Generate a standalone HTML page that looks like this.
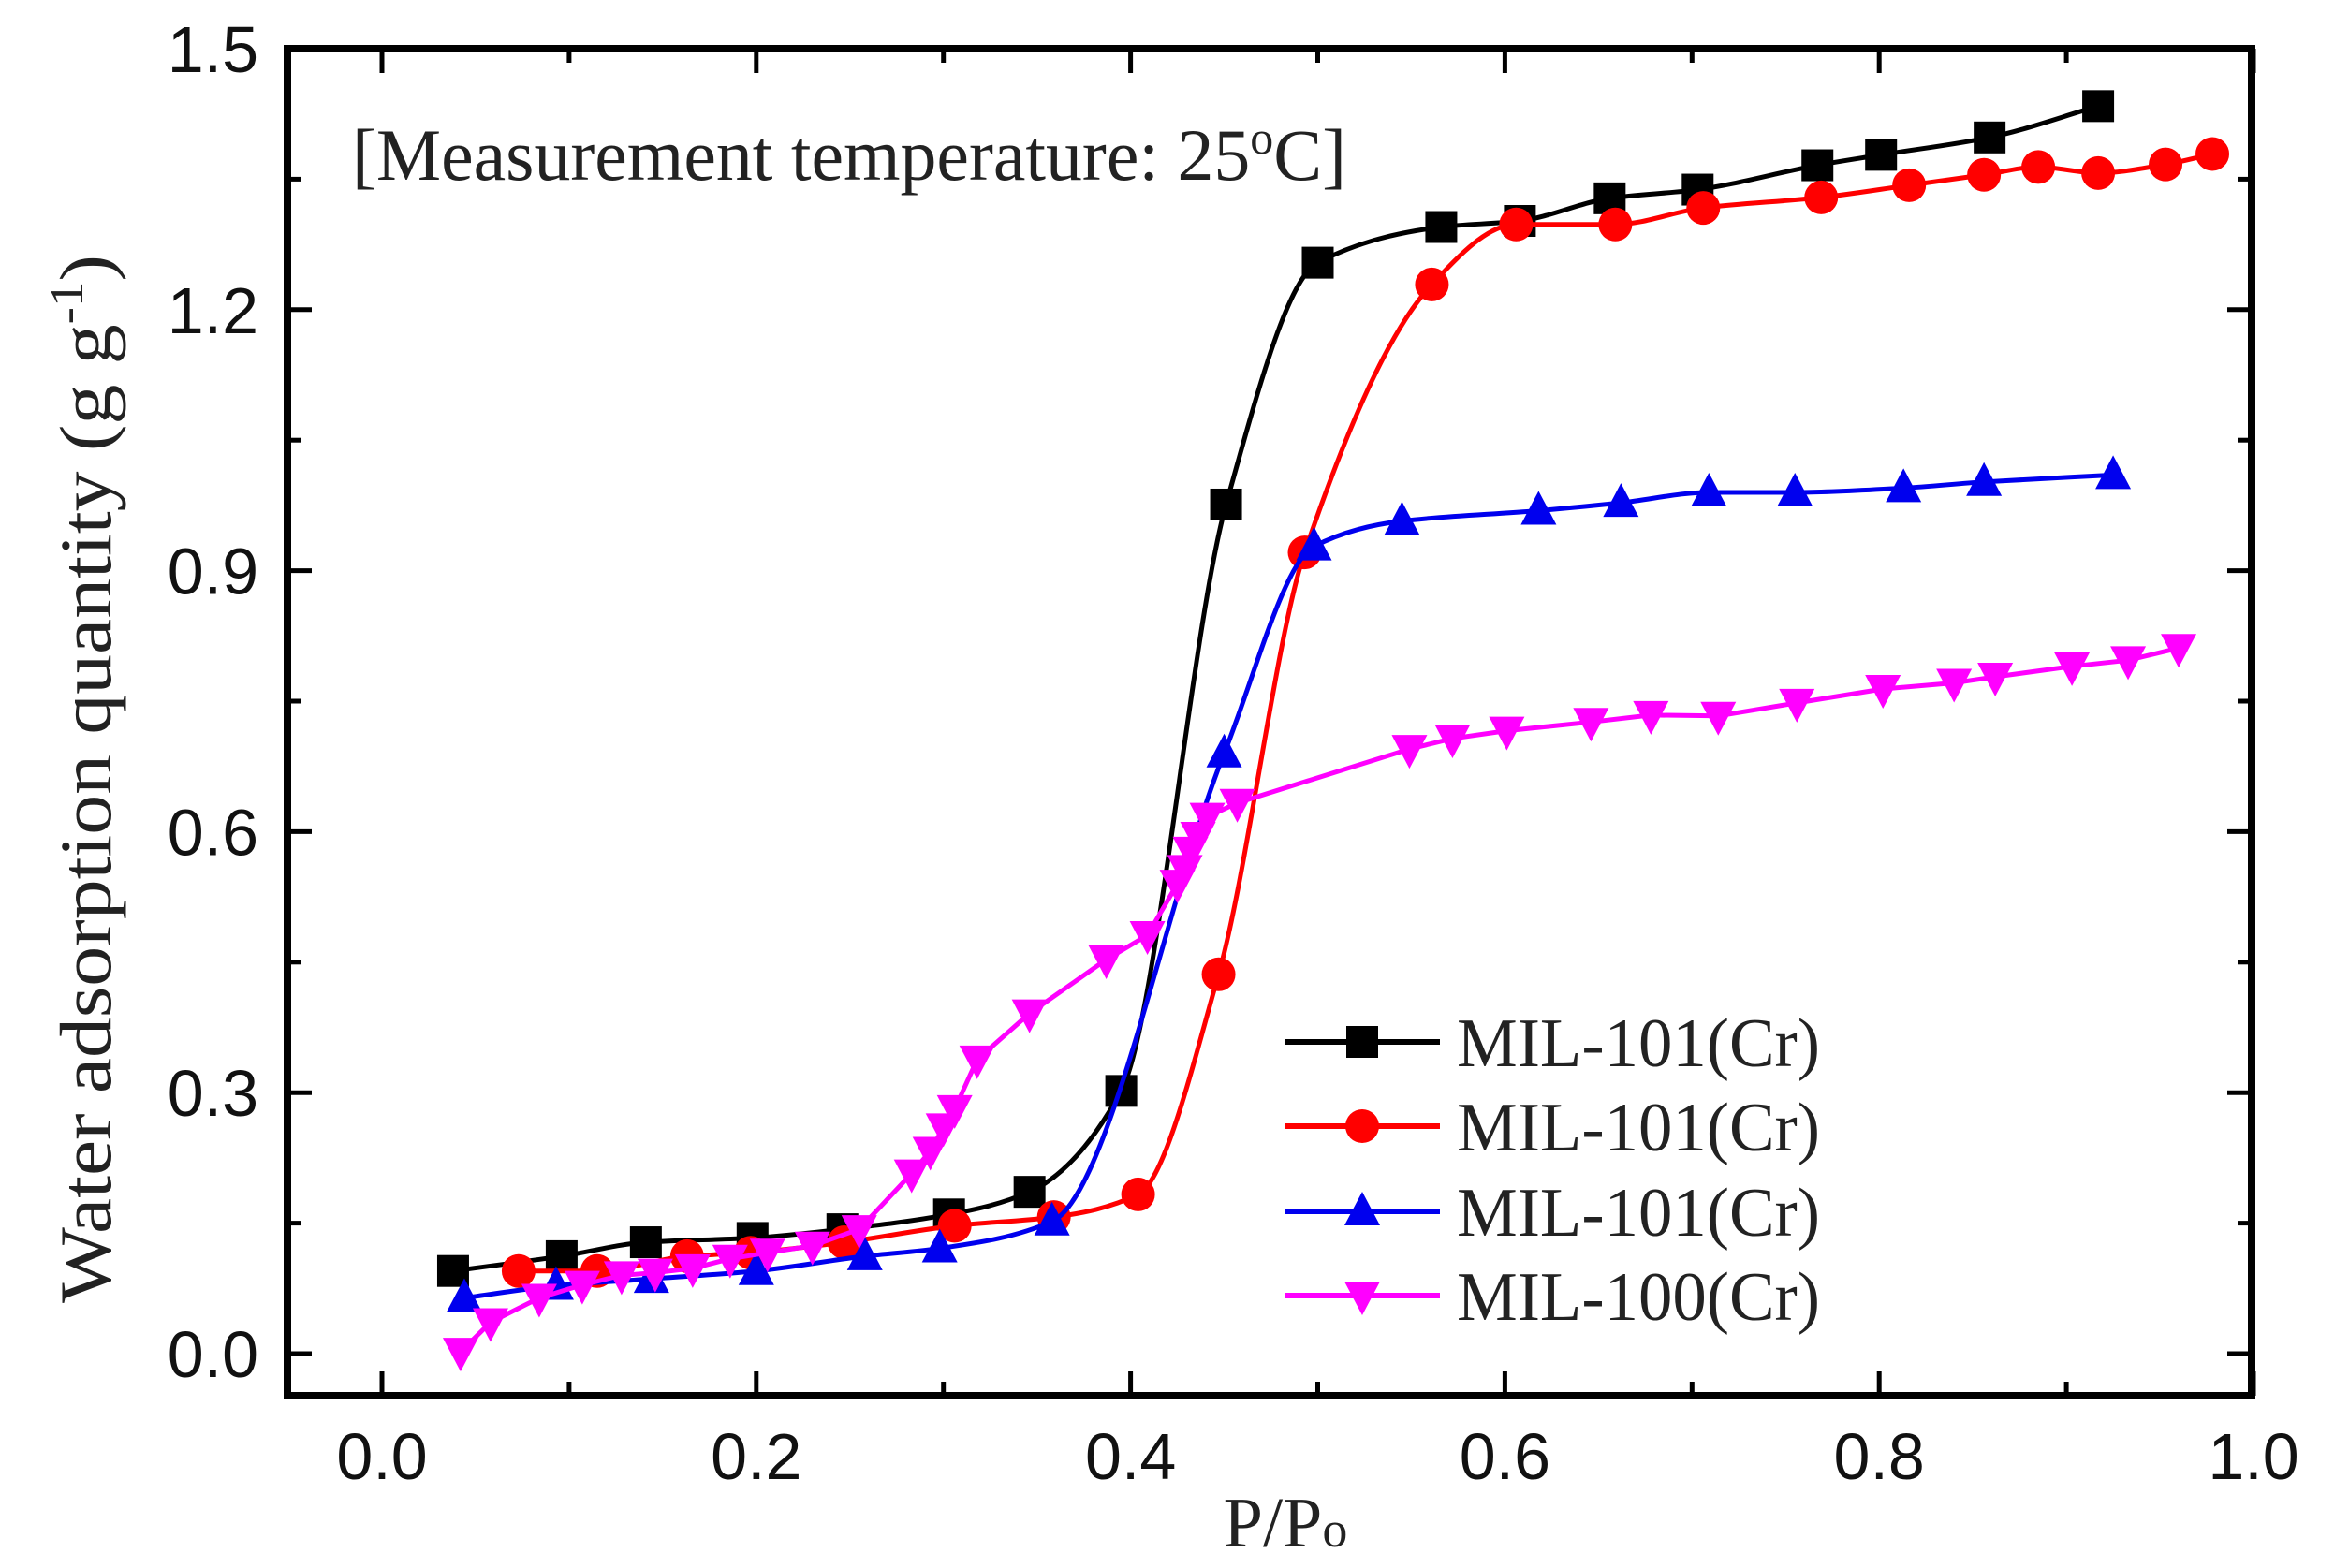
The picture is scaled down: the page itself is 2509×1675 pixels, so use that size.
<!DOCTYPE html>
<html><head><meta charset="utf-8"><style>
html,body{margin:0;padding:0;background:#fff;}
svg{display:block;}
</style></head><body>
<svg id="chart" width="2509" height="1675" viewBox="0 0 2509 1675" xmlns="http://www.w3.org/2000/svg">
<g id="plot"></g>
</svg>
<script>
const xTicks=[0.0,0.2,0.4,0.6,0.8,1.0];
const xTickLabels=["0.0","0.2","0.4","0.6","0.8","1.0"];
const yTicks=[0.0,0.3,0.6,0.9,1.2,1.5];
const yTickLabels=["0.0","0.3","0.6","0.9","1.2","1.5"];
const seriesNames=["MIL-101(Cr)","MIL-101(Cr)","MIL-101(Cr)","MIL-100(Cr)"];
const blackX=[0.038,0.096,0.141,0.198,0.246,0.303,0.346,0.395,0.451,0.500,0.566,0.608,0.656,0.703,0.767,0.801,0.859,0.917];
const blackY=[0.095,0.112,0.128,0.133,0.143,0.160,0.186,0.302,0.976,1.254,1.295,1.302,1.328,1.338,1.366,1.378,1.398,1.434];
const redX=[0.073,0.115,0.163,0.197,0.247,0.306,0.359,0.404,0.447,0.493,0.561,0.606,0.659,0.706,0.769,0.816,0.856,0.885,0.917,0.953,0.978];
const redY=[0.095,0.095,0.112,0.116,0.128,0.147,0.157,0.183,0.436,0.921,1.229,1.298,1.298,1.317,1.329,1.343,1.355,1.364,1.357,1.367,1.379];
const blueX=[0.044,0.093,0.144,0.200,0.258,0.298,0.358,0.450,0.498,0.545,0.618,0.662,0.709,0.755,0.813,0.856,0.925];
const blueY=[0.064,0.078,0.086,0.095,0.112,0.121,0.152,0.690,0.928,0.957,0.969,0.978,0.990,0.990,0.995,1.002,1.010];
const magX=[0.042,0.058,0.084,0.107,0.128,0.146,0.166,0.186,0.206,0.230,0.255,0.283,0.293,0.300,0.306,0.318,0.346,0.387,0.409,0.425,0.429,0.432,0.436,0.441,0.457,0.549,0.572,0.601,0.646,0.678,0.714,0.756,0.802,0.840,0.862,0.903,0.933,0.960];
const magY=[0.002,0.036,0.064,0.079,0.090,0.093,0.098,0.109,0.116,0.124,0.143,0.207,0.233,0.260,0.281,0.338,0.391,0.453,0.481,0.540,0.557,0.578,0.595,0.617,0.633,0.695,0.707,0.716,0.726,0.734,0.733,0.748,0.764,0.771,0.778,0.790,0.797,0.811];

const NS="http://www.w3.org/2000/svg";
const L=307,R=2405,T=52,B=1491;
const X0=408,X1=2407,Y0=1446,Y15=52;
function sx(v){return X0+(X1-X0)*v;}
function sy(v){return Y0-(Y0-Y15)*v/1.5;}
const g=document.getElementById('plot');
function mk(tag,attrs,parent){const e=document.createElementNS(NS,tag);for(const k in attrs)e.setAttribute(k,attrs[k]);(parent||g).appendChild(e);return e;}

let ann=mk('text',{x:376,y:192,'font-family':'"Liberation Serif",serif','font-size':78,fill:'#222',textLength:1062,lengthAdjust:'spacingAndGlyphs'});


ann.innerHTML='[Measurement temperature: 25<tspan dy="-28" font-size="50">o</tspan><tspan dy="28">C]</tspan>';

function smoothPath(xs,ys){
  const n=xs.length;const px=xs.map(sx),py=ys.map(sy);
  const d=[],m=[];
  for(let i=0;i<n-1;i++)d.push((py[i+1]-py[i])/(px[i+1]-px[i]));
  for(let i=0;i<n;i++){
    if(i==0)m.push(d[0]);else if(i==n-1)m.push(d[n-2]);
    else m.push(d[i-1]*d[i]<=0?0:2/(1/d[i-1]+1/d[i]));
  }
  let s='M'+px[0]+','+py[0];
  for(let i=0;i<n-1;i++){const h=(px[i+1]-px[i])/3;
    s+=' C'+(px[i]+h)+','+(py[i]+m[i]*h)+' '+(px[i+1]-h)+','+(py[i+1]-m[i+1]*h)+' '+px[i+1]+','+py[i+1];}
  return s;
}
function linePath(xs,ys){return xs.map((x,i)=>(i?'L':'M')+sx(x)+','+sy(ys[i])).join(' ');}

function marker(type,cx,cy,color,parent){
  let e;const s=17;
  if(type=='sq')e=mk('rect',{x:cx-s,y:cy-s,width:2*s,height:2*s,fill:color},parent);
  else if(type=='ci')e=mk('circle',{cx:cx,cy:cy,r:18,fill:color},parent);
  else if(type=='up')e=mk('polygon',{points:`${cx},${cy-21} ${cx-19},${cy+15} ${cx+19},${cy+15}`,fill:color},parent);
  else e=mk('polygon',{points:`${cx},${cy+21} ${cx-19},${cy-15} ${cx+19},${cy-15}`,fill:color},parent);
  return e;
}
const series=[
  {name:'mil101-black',xs:blackX,ys:blackY,c:'#000',m:'sq',smooth:true},
  {name:'mil101-red',xs:redX,ys:redY,c:'#ff0000',m:'ci',smooth:true},
  {name:'mil101-blue',xs:blueX,ys:blueY,c:'#0000ee',m:'up',smooth:true},
  {name:'mil100-magenta',xs:magX,ys:magY,c:'#ff00ff',m:'dn',smooth:false}
];
series.forEach(s=>{
  const grp=mk('g',{});
  
  
  const p=mk('path',{d:s.smooth?smoothPath(s.xs,s.ys):linePath(s.xs,s.ys),fill:'none',stroke:s.c,'stroke-width':5},grp);
  
  
  s.xs.forEach((x,i)=>{
    const e=marker(s.m,sx(x),sy(s.ys[i]),s.c,grp);
    
    
  });
});

const fr=mk('rect',{x:L,y:T,width:R-L,height:B-T,fill:'none',stroke:'#000','stroke-width':8});


for(let i=0;i<=10;i++){const v=i/10;const x=sx(v);const len=i%2==0?26:15;
  const t1=mk('line',{x1:x,y1:B,x2:x,y2:B-len,stroke:'#000','stroke-width':5});
  
  
  const t2=mk('line',{x1:x,y1:T,x2:x,y2:T+len,stroke:'#000','stroke-width':5});
  
  
}
for(let i=0;i<=10;i++){const v=i*0.15;const y=sy(v);const len=i%2==0?26:15;
  const t1=mk('line',{x1:L,y1:y,x2:L+len,y2:y,stroke:'#000','stroke-width':5});
  
  
  const t2=mk('line',{x1:R,y1:y,x2:R-len,y2:y,stroke:'#000','stroke-width':5});
  
  
}
xTicks.forEach((v,i)=>{
  const t=mk('text',{x:sx(v),y:1580,'text-anchor':'middle','font-family':'"Liberation Sans",sans-serif','font-size':70,fill:'#111'});
  
  
  t.textContent=xTickLabels[i];
});
yTicks.forEach((v,i)=>{
  const t=mk('text',{x:276,y:sy(v)+25,'text-anchor':'end','font-family':'"Liberation Sans",sans-serif','font-size':70,fill:'#111'});
  
  
  t.textContent=yTickLabels[i];
});
const xt=mk('text',{x:1373,y:1652,'text-anchor':'middle','font-family':'"Liberation Serif",serif','font-size':76,fill:'#222'});


xt.innerHTML='P/P<tspan font-size="54">o</tspan>';
const yt=mk('text',{x:0,y:0,'text-anchor':'middle','font-family':'"Liberation Serif",serif','font-size':78,fill:'#222',transform:'translate(118,832) rotate(-90)',textLength:1120,lengthAdjust:'spacingAndGlyphs'});


yt.innerHTML='Water adsorption quantity (g g<tspan dy="-30" font-size="50">-1</tspan><tspan dy="30">)</tspan>';

const legY=[1113,1203,1294,1384];
const lg=mk('g',{});


series.forEach((s,i)=>{
  const e=mk('g',{},lg);
  
  
  mk('line',{x1:1372,y1:legY[i],x2:1538,y2:legY[i],stroke:s.c,'stroke-width':6},e);
  marker(s.m,1455,legY[i],s.c,e);
  const t=mk('text',{x:1556,y:legY[i]+26,'font-family':'"Liberation Serif",serif','font-size':74,fill:'#222',textLength:388,lengthAdjust:'spacingAndGlyphs'},e);
  t.textContent=seriesNames[i];
});
</script>
</body></html>
